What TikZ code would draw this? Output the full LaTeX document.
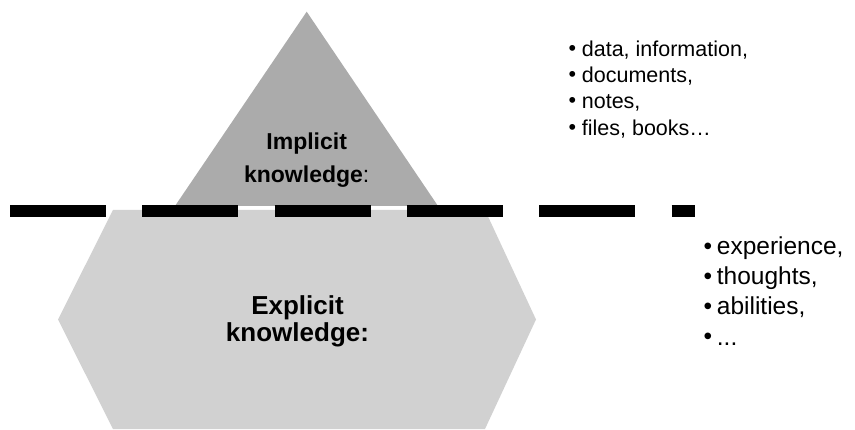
\documentclass[tikz,border=0pt]{standalone}
\usepackage{fontspec}
\setmainfont{Liberation Sans}
\begin{document}
\begin{tikzpicture}[x=1pt,y=1pt,
  tip/.style={fill=tipgray},
  base/.style={fill=basegray},
  waterline/.style={line width=12pt, dash pattern=on 96pt off 36.3pt},
  heading/.style={inner sep=0pt, font=\bfseries},
  item/.style={anchor=base west, inner sep=0pt},
  dot/.style={inner sep=0pt, anchor=center}]
\definecolor{tipgray}{HTML}{ABABAB}
\definecolor{basegray}{HTML}{D1D1D1}
\useasboundingbox (0,0) rectangle (855,429);

% submerged part of the iceberg
\fill[base] (113,219) -- (485,219) -- (536,109.5) -- (485,0) -- (113,0) -- (58,109.5) -- cycle;
% visible tip
\fill[tip] (306.7,417.3) -- (438,223) -- (175,223) -- cycle;

% dashed water line
\draw[waterline] (10,217.5) -- (695,217.5);

% labels inside the shapes
\node[heading, anchor=base, font=\fontsize{23}{23}\selectfont\bfseries] (imp1) at (306.7,279.7) {Implicit};
\node[heading, anchor=base, font=\fontsize{23}{23}\selectfont] (imp2) at (306.7,246.3) {\textbf{knowledge}:};
\node[heading, anchor=base, font=\fontsize{26}{26}\selectfont\bfseries] (exp1) at (297.5,114) {Explicit};
\node[heading, anchor=base, font=\fontsize{26}{26}\selectfont\bfseries] (exp2) at (297.5,87.3) {knowledge:};

% list above the water line
\begin{scope}[font=\fontsize{21.5}{21.5}\selectfont]
\node[item] (a1) at (581.7,372.8) {data, information,};
\node[item] (a2) at (581.7,346.2) {documents,};
\node[item] (a3) at (581.7,320.2) {notes,};
\node[item] (a4) at (581.7,293.5) {files, books…};
\node[dot] (ad1) at (572.5,378.8) {•};
\node[dot] (ad2) at (572.5,352.2) {•};
\node[dot] (ad3) at (572.5,326.2) {•};
\node[dot] (ad4) at (572.5,299.5) {•};
\end{scope}

% list below the water line
\begin{scope}[font=\fontsize{24.5}{24.5}\selectfont]
\node[item] (b1) at (716.7,174) {experience,};
\node[item] (b2) at (716.7,144) {thoughts,};
\node[item] (b3) at (716.7,114) {abilities,};
\node[item] (b4) at (716.7,84)  {...};
\node[dot] (bd1) at (708,180.7) {•};
\node[dot] (bd2) at (708,150.7) {•};
\node[dot] (bd3) at (708,120.7) {•};
\node[dot] (bd4) at (708,90.7)  {•};
\end{scope}
\end{tikzpicture}
\end{document}
